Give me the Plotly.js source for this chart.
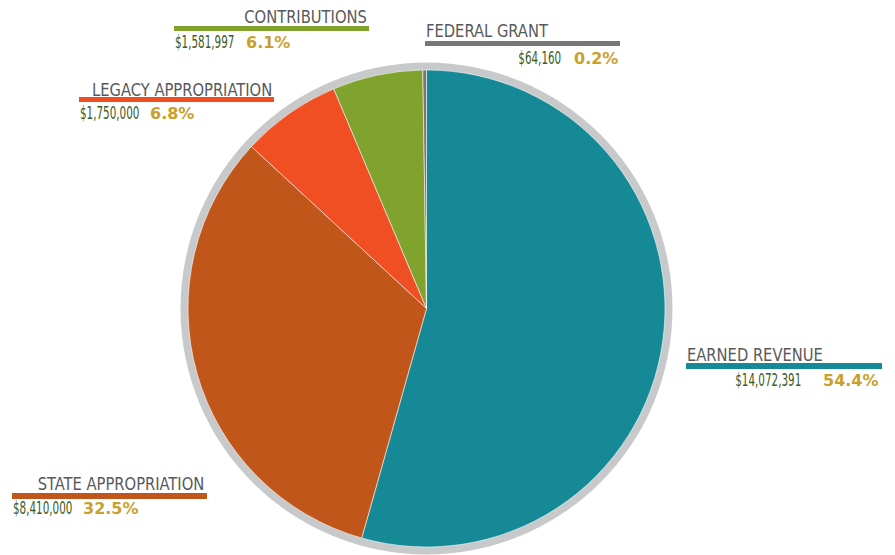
<!DOCTYPE html>
<html>
<head>
<meta charset="utf-8">
<script src="https://cdn.plot.ly/plotly-3.0.1.min.js"></script>
<style>html,body{margin:0;padding:0;background:#fff;}#chart{width:895px;height:555px;}</style>
</head>
<body>
<div id="chart"></div>
<script>
// ---- data ----
const labels = ['EARNED REVENUE', 'STATE APPROPRIATION', 'LEGACY APPROPRIATION', 'CONTRIBUTIONS', 'FEDERAL GRANT'];
const values = [14072391, 8410000, 1750000, 1581997, 64160];
const colors = ['#158a96', '#c0561a', '#f04f24', '#7fa32d', '#77777a'];

// ---- label placement (pixels) ----
const W = 895, H = 555;
const place = [
  {tx: 685, ta: 'left',  ty: 354, bar: [686, 882, 363, 369], ax: 803, aa: 'right', px: 821, ry: 380},
  {tx: 206, ta: 'right', ty: 483, bar: [12, 207, 493, 499],  ax: 11,  aa: 'left',  px: 81,  ry: 508},
  {tx: 274, ta: 'right', ty: 89,  bar: [79, 274, 97, 102],   ax: 78,  aa: 'left',  px: 148, ry: 113},
  {tx: 369, ta: 'right', ty: 16,  bar: [174, 369, 26, 31],   ax: 173, aa: 'left',  px: 244, ry: 42},
  {tx: 424, ta: 'left',  ty: 31,  bar: [425, 620, 41, 46],   ax: 563, aa: 'right', px: 572, ry: 58}
];
const titleSqueeze = 0.91, moneySqueeze = 0.68;

const fx = p => p / W;
const fy = p => 1 - p / H;
const total = values.reduce((a, b) => a + b, 0);
const money = v => '$' + v.toLocaleString('en-US');
const pct = v => (v / total * 100).toFixed(1) + '%';

const narrow = 'DejaVu Sans Condensed';

// pie geometry
const cx = 426.5, cy = 308.5, r = 238.5, ring = 246;

const traces = [
  {
    type: 'pie', values: [1], labels: ['ring'], sort: false,
    marker: {colors: ['#c8c9cb'], line: {width: 0}},
    textinfo: 'none', hoverinfo: 'skip', showlegend: false,
    domain: {x: [fx(cx - ring), fx(cx + ring)], y: [1 - (cy + ring) / H, 1 - (cy - ring) / H]}
  },
  {
    type: 'pie', values: values, labels: labels, sort: false,
    direction: 'clockwise', rotation: 0,
    marker: {colors: colors, line: {color: 'rgba(255,255,255,0.7)', width: 0.8}},
    textinfo: 'none', hoverinfo: 'label+value+percent', showlegend: false,
    domain: {x: [fx(cx - r), fx(cx + r)], y: [1 - (cy + r) / H, 1 - (cy - r) / H]}
  }
];

const annotations = [];
const squeeze = [];
const shapes = [];
labels.forEach((lab, i) => {
  const p = place[i];
  annotations.push({
    xref: 'paper', yref: 'paper', x: fx(p.tx), y: fy(p.ty), xanchor: p.ta, align: p.ta, yanchor: 'middle',
    text: lab, showarrow: false,
    font: {family: narrow, size: 18, color: '#58595b'}
  });
  squeeze.push(titleSqueeze);
  annotations.push({
    xref: 'paper', yref: 'paper', x: fx(p.ax), y: fy(p.ry), xanchor: p.aa, align: p.aa, yanchor: 'middle',
    text: money(values[i]), showarrow: false,
    font: {family: narrow, size: 17, color: '#3e5a1e'}
  });
  squeeze.push(moneySqueeze);
  annotations.push({
    xref: 'paper', yref: 'paper', x: fx(p.px), y: fy(p.ry), xanchor: 'left', align: 'left', yanchor: 'middle',
    text: '<b>' + pct(values[i]) + '</b>', showarrow: false,
    font: {family: 'DejaVu Sans', size: 16, color: '#c9a02e'}
  });
  squeeze.push(1);
  shapes.push({
    type: 'rect', xref: 'paper', yref: 'paper',
    x0: fx(p.bar[0]), x1: fx(p.bar[1]), y0: fy(p.bar[3]), y1: fy(p.bar[2]),
    fillcolor: colors[i], line: {width: 0}
  });
});

const layout = {
  width: W, height: H,
  margin: {l: 0, r: 0, t: 0, b: 0},
  paper_bgcolor: '#ffffff', plot_bgcolor: '#ffffff',
  showlegend: false,
  annotations: annotations,
  shapes: shapes
};

// horizontally condense texts to mimic the narrow typeface, keeping the anchored edge fixed
function condense() {
  const groups = document.querySelectorAll('#chart .annotation');
  groups.forEach((g, k) => {
    const f = squeeze[k];
    if (f === 1) return;
    const t = g.querySelector('.annotation-text');
    if (!t || t.getAttribute('data-sq')) return;
    t.setAttribute('data-sq', '1');
    const x0 = parseFloat(t.getAttribute('x')) || 0;
    const prev = t.getAttribute('transform') || '';
    t.setAttribute('transform', (prev + ' translate(' + x0 + ',0) scale(' + f + ',1) translate(' + (-x0) + ',0)').trim());
    const bg = g.querySelector('rect.bg');
    if (bg) {
      const bw = parseFloat(bg.getAttribute('width')) || 0;
      const bx = parseFloat(bg.getAttribute('x')) || 0;
      const d = bw * (1 - f);
      bg.setAttribute('width', bw - d);
      if (annotations[k].xanchor === 'right') bg.setAttribute('x', bx + d);
    }
  });
}

Plotly.newPlot('chart', traces, layout, {displayModeBar: false}).then(condense);
</script>
</body>
</html>
